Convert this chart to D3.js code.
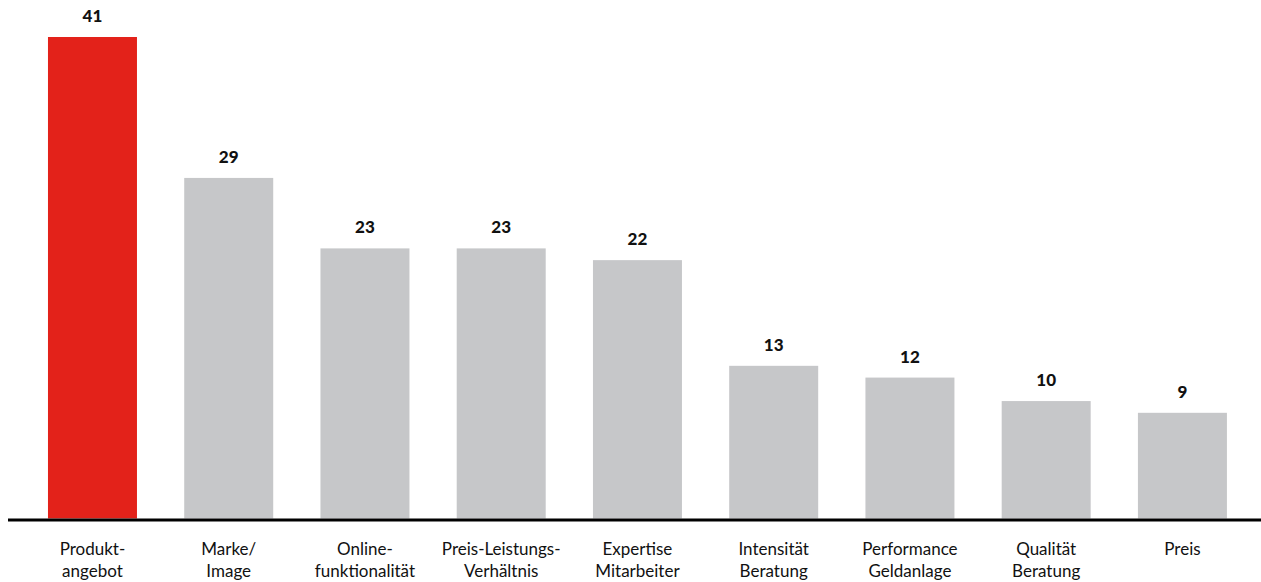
<!DOCTYPE html>
<html><head><meta charset="utf-8">
<script src="https://cdn.jsdelivr.net/npm/d3@7"></script>
<style>body{margin:0;background:#fff}svg{display:block}</style>
</head><body>
<svg id="c" width="1261" height="582"></svg>
<script>
const categories = [["Produkt-","angebot"],["Marke/","Image"],["Online-","funktionalität"],["Preis-Leistungs-","Verhältnis"],["Expertise","Mitarbeiter"],["Intensität","Beratung"],["Performance","Geldanlage"],["Qualität","Beratung"],["Preis"]];
const values = [41,29,23,23,22,13,12,10,9];
const highlight = [true,false,false,false,false,false,false,false,false];

const svg = d3.select("#c");
const baseY = 518.5;
const x = d3.scaleBand().domain(d3.range(values.length)).range([7.1, 1267.8]).paddingInner(0.3468).paddingOuter(0.3);
const y = d3.scaleLinear().domain([0, 41]).range([baseY, 37]);

svg.selectAll("rect.bar").data(values).join("rect")
  .attr("x", (d,i)=>x(i)).attr("width", x.bandwidth())
  .attr("y", d=>y(d)).attr("height", d=>baseY - y(d))
  .attr("fill", (d,i)=>highlight[i] ? "#e3221a" : "#c6c7c9");

svg.selectAll("text.val").data(values).join("text")
  .attr("x",(d,i)=>x(i)+x.bandwidth()/2).attr("y", d=>y(d)-15)
  .attr("text-anchor","middle").attr("font-family","Lato, 'Open Sans', sans-serif")
  .attr("font-weight","900").attr("font-size",17).attr("fill","#111").text(d=>d);

svg.append("line").attr("x1",8).attr("x2",1261).attr("y1",baseY+1.5).attr("y2",baseY+1.5)
  .attr("stroke","#000").attr("stroke-width",3);

const lab = svg.selectAll("text.lab").data(categories).join("text")
  .attr("text-anchor","middle").attr("font-family","Lato, 'Open Sans', sans-serif")
  .attr("font-size",17).attr("fill","#111");
lab.each(function(d,i){
  d3.select(this).selectAll("tspan").data(d).join("tspan")
    .attr("x", x(i)+x.bandwidth()/2).attr("y",(t,j)=>555+j*22).text(t=>t);
});
</script>
</body></html>
